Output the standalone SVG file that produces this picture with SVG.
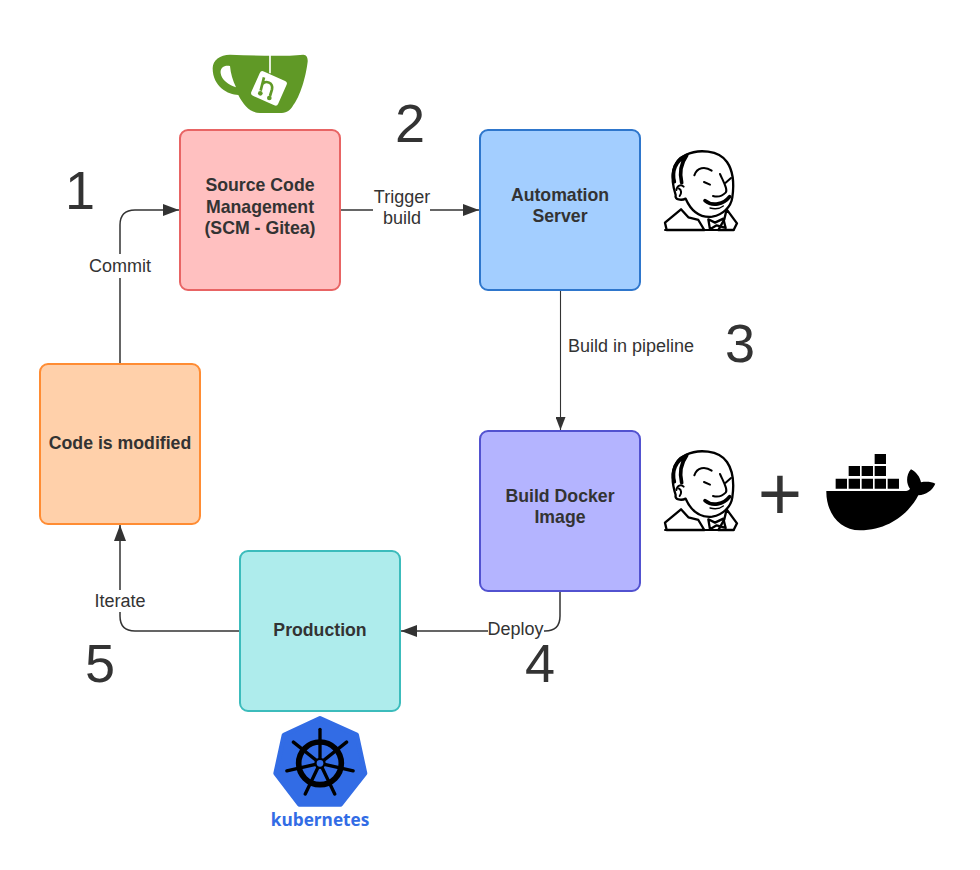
<svg xmlns="http://www.w3.org/2000/svg" xmlns:xlink="http://www.w3.org/1999/xlink" width="980" height="870" viewBox="0 0 980 870">
<style>
text{font-family:"Liberation Sans",Arial,sans-serif;fill:#333}
.box{stroke-width:2}
.t{font-weight:bold;font-size:17.7px;text-anchor:middle}
.l{font-size:18px;text-anchor:middle}
.n{font-size:54px;text-anchor:middle}
.c{fill:none;stroke:#333;stroke-width:1.5}
.bg{fill:#fff}
.j{fill:none;stroke:#000;stroke-linecap:round;stroke-linejoin:round}
</style>
<defs>
<marker id="a" markerUnits="userSpaceOnUse" viewBox="0 0 16 12" refX="16" refY="6" markerWidth="16" markerHeight="12" orient="auto"><path d="M0 0L16 6L0 12Z" fill="#333"/></marker>
<marker id="b" markerUnits="userSpaceOnUse" viewBox="0 0 13 10" refX="13" refY="5" markerWidth="13" markerHeight="10" orient="auto"><path d="M0 0L13 5L0 10Z" fill="#333"/></marker>
<g id="jenkins" transform="scale(.3333)">
<path class="j" stroke-width="7" fill="#fff" d="M62 165C45 112 50 62 92 45C130 26 192 30 216 66C234 92 238 130 232 172C228 200 205 224 172 230C135 234 108 212 92 176C80 182 58 180 62 165Z"/>
<path class="j" stroke-width="11" d="M58 125C50 95 60 62 95 46C78 70 72 95 80 128"/>
<path class="j" stroke-width="6" d="M64 150C66 136 78 132 86 140M72 146C80 150 80 160 74 168"/>
<path class="j" stroke-width="6" d="M118 106C126 82 150 78 170 92"/>
<path class="j" stroke-width="6" d="M147 126L165 134M212 128L228 114M195 102C205 125 220 150 212 158C200 170 188 172 174 168"/>
<path class="j" stroke-width="11" d="M150 182C172 200 205 194 224 170"/>
<path class="j" stroke-width="4" d="M165 204C180 208 195 206 205 198"/>
<path class="j" stroke-width="7" fill="#fff" d="M30 248L78 208L100 232L130 240L148 270L35 270ZM215 208L246 250L236 270L190 270L208 238Z"/>
<path class="j" stroke-width="7" fill="#fff" d="M160 238L180 248L205 236L212 264L185 256L165 268Z"/>
<path d="M30 270H236" class="j" stroke-width="6"/>
</g>
</defs>
<g id="connectors">
<path class="c" d="M120 364V225Q120 210 135 210H179" marker-end="url(#a)"/>
<path class="c" d="M341 210H479" marker-end="url(#a)"/>
<path class="c" style="stroke-width:1.1" d="M560.500 291V430" marker-end="url(#b)"/>
<path class="c" d="M560 592V616Q560 631 545 631H401" marker-end="url(#a)"/>
<path class="c" d="M240 631H135Q120 631 120 616V525" marker-end="url(#a)"/>
<rect class="bg" x="88" y="254" width="64" height="24"/>
<text class="l" x="120" y="272">Commit</text>
<rect class="bg" x="373" y="186" width="57" height="44"/>
<text class="l" x="402" y="203">Trigger</text>
<text class="l" x="402" y="224">build</text>
<text class="l" x="631" y="352">Build in pipeline</text>
<rect class="bg" x="488" y="620" width="56" height="20"/>
<text class="l" x="515.500" y="635">Deploy</text>
<rect class="bg" x="93" y="590" width="54" height="22"/>
<text class="l" x="120" y="607">Iterate</text>
</g>
<g id="scm">
<rect class="box" x="180" y="130" width="160" height="160" rx="8" fill="#ffc0c0" stroke="#e86464"/>
<text class="t" x="260" y="191">Source Code</text>
<text class="t" x="260" y="213">Management</text>
<text class="t" x="260" y="234">(SCM - Gitea)</text>
</g>
<g id="automation">
<rect class="box" x="480" y="130" width="160" height="160" rx="8" fill="#a3ceff" stroke="#2e76cc"/>
<text class="t" x="560" y="201">Automation</text>
<text class="t" x="560" y="222">Server</text>
</g>
<g id="build">
<rect class="box" x="480" y="431" width="160" height="160" rx="8" fill="#b4b4ff" stroke="#5252d0"/>
<text class="t" x="560" y="502">Build Docker</text>
<text class="t" x="560" y="523">Image</text>
</g>
<g id="production">
<rect class="box" x="240" y="551" width="160" height="160" rx="8" fill="#aeecec" stroke="#3cbcbc"/>
<text class="t" x="320" y="636">Production</text>
</g>
<g id="modified">
<rect class="box" x="40" y="364" width="160" height="160" rx="8" fill="#ffd0aa" stroke="#ff8c33"/>
<text class="t" x="120" y="449">Code is modified</text>
</g>
<g id="numbers">
<text class="n" x="80" y="209">1</text>
<text class="n" x="410" y="142">2</text>
<text class="n" x="740" y="362">3</text>
<text class="n" x="540" y="682">4</text>
<text class="n" x="100" y="682">5</text>
<text x="780" y="520" font-size="76" text-anchor="middle">+</text>
</g>
<g id="gitea" transform="translate(200 40) scale(.3333)">
<path fill="#609926" fill-rule="evenodd" d="M38 85C38 60 60 44 90 44C170 47 250 50 310 44C320 44 324 55 323 65C318 110 300 170 280 195C270 215 255 219 240 219H180C150 219 130 195 115 165C85 165 38 140 38 85ZM90 78C70 75 60 85 62 100C65 120 85 135 108 142C98 120 92 100 90 78Z"/>
<path d="M210 45V100" stroke="#fff" stroke-width="5"/>
<rect x="163" y="105" width="88" height="80" rx="9" fill="#fff" transform="rotate(24 207 145)"/>
<path d="M192 112L182 152M187 132C198 120 220 128 216 148L210 168" fill="none" stroke="#609926" stroke-width="8"/>
<circle cx="181" cy="160" r="7" fill="#609926"/><circle cx="208" cy="174" r="7" fill="#609926"/>
</g>
<use id="jenkins1" xlink:href="#jenkins" href="#jenkins" transform="translate(655 140)"/>
<use id="jenkins2" xlink:href="#jenkins" href="#jenkins" transform="translate(655 440)"/>
<g id="docker" transform="translate(750 440) scale(.3333)">
<path d="M374 42h34v30h-34zM296 78h34v30h-34zM335 78h34v30h-34zM374 78h34v30h-34zM257 116h34v30h-34zM296 116h34v30h-34zM335 116h34v30h-34zM374 116h34v30h-34zM413 116h34v30h-34z"/>
<path d="M229 153H462C472 153 478 150 480 146C468 130 468 105 483 88C498 96 510 110 513 127C530 124 545 126 556 131C548 150 528 165 505 166C480 215 420 271 330 271C270 271 228 220 229 153Z"/>
</g>
<g id="kubernetes">
<g transform="translate(260 710) scale(.3333)">
<path fill="#326ce5" stroke="#326ce5" stroke-width="14" stroke-linejoin="round" d="M180 25L290 75L315 190L242 283L118 283L47 190L72 75Z"/>
<circle cx="180" cy="160" r="64" fill="none" stroke="#000" stroke-width="17"/>
<g stroke="#000" stroke-width="10" stroke-linecap="round">
<path d="M180 160V58"/><path d="M180 160V58" transform="rotate(51.400 180 160)"/><path d="M180 160V58" transform="rotate(102.900 180 160)"/><path d="M180 160V58" transform="rotate(154.300 180 160)"/><path d="M180 160V58" transform="rotate(205.700 180 160)"/><path d="M180 160V58" transform="rotate(257.100 180 160)"/><path d="M180 160V58" transform="rotate(308.600 180 160)"/>
</g>
<circle cx="180" cy="160" r="17" fill="#000"/><circle cx="180" cy="160" r="10" fill="#326ce5"/>
</g>
<text x="320" y="825.500" text-anchor="middle" font-size="17.200" font-weight="bold" style="font-family:'Open Sans',sans-serif;fill:#326ce5">kubernetes</text>
</g>
</svg>
